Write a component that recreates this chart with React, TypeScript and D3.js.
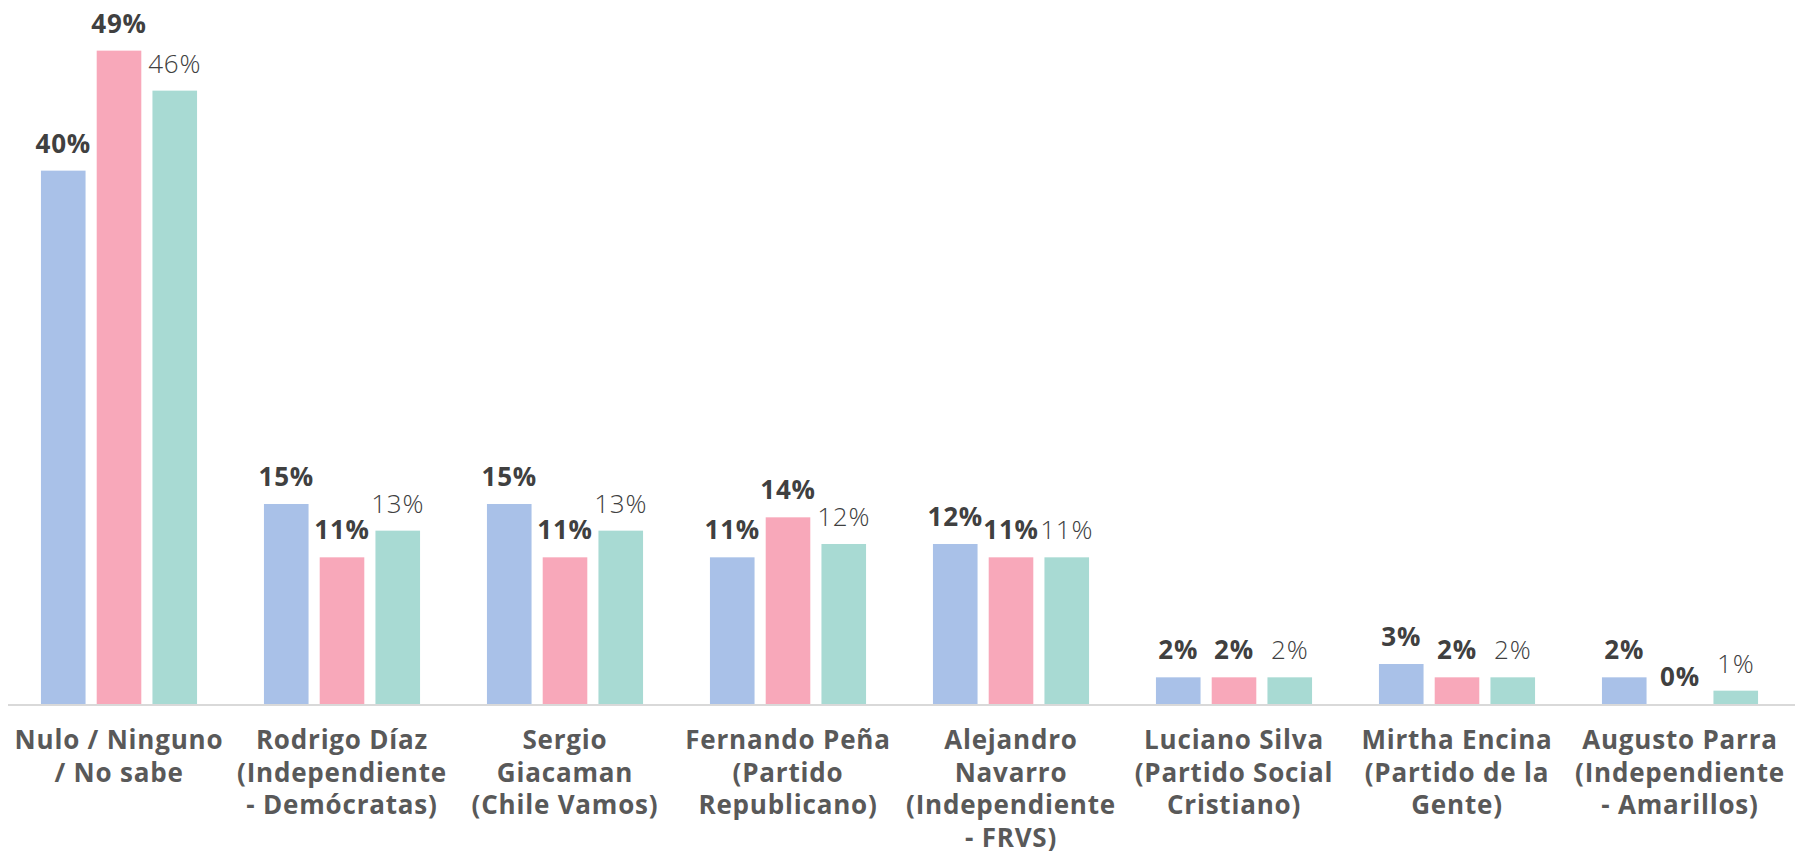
import React from "react";
import * as d3 from "d3";

const categories: string[][] = [
  ["Nulo / Ninguno", "/ No sabe"],
  ["Rodrigo Díaz", "(Independiente", "- Demócratas)"],
  ["Sergio", "Giacaman", "(Chile Vamos)"],
  ["Fernando Peña", "(Partido", "Republicano)"],
  ["Alejandro", "Navarro", "(Independiente", "- FRVS)"],
  ["Luciano Silva", "(Partido Social", "Cristiano)"],
  ["Mirtha Encina", "(Partido de la", "Gente)"],
  ["Augusto Parra", "(Independiente", "- Amarillos)"],
];
const seriesA = [40, 15, 15, 11, 12, 2, 3, 2];
const seriesB = [49, 11, 11, 14, 11, 2, 2, 0];
const seriesC = [46, 13, 13, 12, 11, 2, 2, 1];
const seriesKeys = ["a", "b", "c"];
const colors = ["#A9C1E8", "#F8A8BA", "#A8DAD3"];
const labelWeights = [700, 700, 300];

const W = 1795;
const H = 851;
const FONT = "'Open Sans', 'DejaVu Sans', sans-serif";

export default function App() {
  const series = [seriesA, seriesB, seriesC];
  const x0 = d3
    .scaleBand<number>()
    .domain(d3.range(categories.length))
    .range([7.5, 1791.5])
    .paddingInner(0)
    .paddingOuter(0);
  const x1 = d3
    .scaleBand<string>()
    .domain(seriesKeys)
    .range([0, x0.bandwidth()])
    .paddingInner(0.2)
    .paddingOuter(0.6);
  const y = d3.scaleLinear().domain([0, 50]).range([704, 704 - 666.7]);

  return (
    <svg
      width={W}
      height={H}
      style={{ position: "absolute", left: 0, top: 0, display: "block", background: "#fff" }}
    >
      {series.map((vals, si) =>
        vals.map((v, ci) => {
          const bx = (x0(ci) as number) + (x1(seriesKeys[si]) as number);
          return (
            <g key={`${si}-${ci}`}>
              <rect
                x={bx}
                y={y(v)}
                width={x1.bandwidth()}
                height={y(0) - y(v)}
                fill={colors[si]}
              />
              <text
                x={bx + x1.bandwidth() / 2}
                y={y(v) - 18}
                textAnchor="middle"
                fontFamily={FONT}
                fontSize={26}
                letterSpacing={0.8}
                fontWeight={labelWeights[si]}
                fill="#404040"
              >
                {`${v}%`}
              </text>
            </g>
          );
        })
      )}
      <line x1={8} x2={W} y1={y(0) + 1} y2={y(0) + 1} stroke="#D9D9D9" strokeWidth={2} />
      {categories.map((lines, ci) => {
        const cx = (x0(ci) as number) + x0.bandwidth() / 2;
        return (
          <text
            key={ci}
            textAnchor="middle"
            fontFamily={FONT}
            fontSize={26}
            letterSpacing={0.8}
            fontWeight={700}
            fill="#595959"
          >
            {lines.map((ln, li) => (
              <tspan key={li} x={cx} y={749 + li * 32.5}>
                {ln}
              </tspan>
            ))}
          </text>
        );
      })}
    </svg>
  );
}
